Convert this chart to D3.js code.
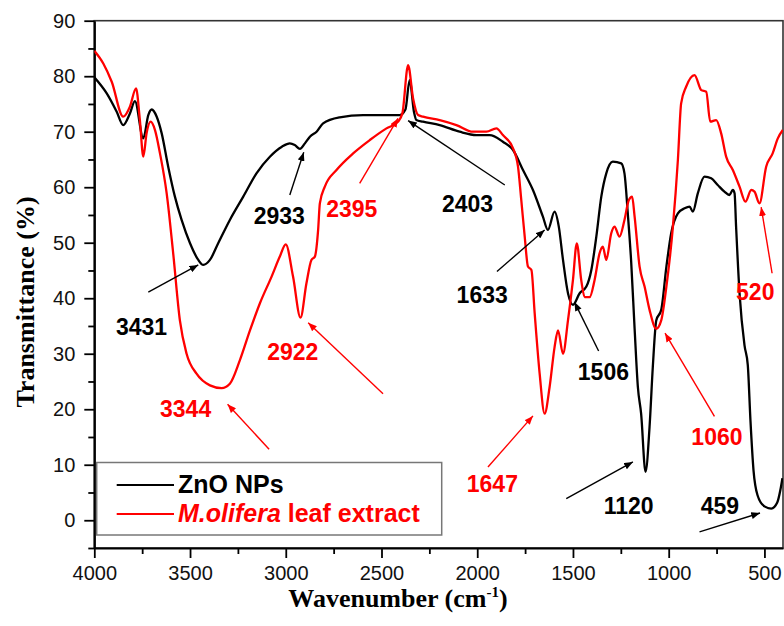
<!DOCTYPE html>
<html>
<head>
<meta charset="utf-8">
<script src="https://cdn.jsdelivr.net/npm/d3@7"></script>
<style>
body{margin:0;background:#fff}
svg{display:block}
.axis text{font-family:"Liberation Sans",Arial,sans-serif;font-size:20px;fill:#111}
.axis path,.axis line{stroke:#000}
.peak{font-family:"Liberation Sans",Arial,sans-serif;font-size:23px;font-weight:bold}
.title{font-family:"Liberation Serif","Times New Roman",serif;font-size:26px;font-weight:bold;fill:#000}
.legend text{font-family:"Liberation Sans",Arial,sans-serif;font-size:25px;font-weight:bold}
</style>
</head>
<body>
<svg class="chart" width="784" height="626"></svg>
<script>
// ---- data ----
var wnZnO = [4000,3935,3883,3849,3814,3788,3744,3718,3700,3674,3648,3614,3579,3544,3500,3457,3431,3396,3353,3292,3222,3153,3083,3020,2979,2953,2926,2900,2874,2839,2805,2718,2596,2509,2405,2375,2353,2330,2318,2283,2196,2092,2004,1935,1866,1813,1761,1709,1657,1631,1596,1574,1552,1526,1500,1465,1430,1404,1378,1352,1326,1292,1248,1231,1213,1196,1178,1161,1144,1121,1100,1083,1065,1039,1012,987,952,917,891,874,848,813,778,744,709,683,665,656,648,630,604,587,573,557,536,500,464,433,417,406];
var tZnO = [79.8,76.9,73.6,71.2,73.3,75.5,68.8,73.0,74.0,72.7,69.7,63.7,58.3,54.1,49.9,46.9,46.0,46.9,49.9,54.1,58.3,62.5,65.5,67.3,67.9,67.6,66.9,67.9,69.1,70.0,71.5,72.6,73.0,73.0,73.0,74.0,79.3,73.5,72.1,71.8,71.2,70.0,69.4,69.4,68.2,66.7,63.1,59.5,54.7,52.3,55.6,52.9,46.9,40.9,38.8,40.9,42.1,45.1,51.1,58.3,62.5,64.6,64.3,62.5,55.0,46.6,34.5,24.0,19.2,8.7,16.8,27.6,36.0,37.9,45.7,51.7,55.3,56.2,56.5,55.6,58.9,61.9,61.6,60.4,59.2,58.6,59.5,58.9,52.9,40.9,31.5,28.0,18.0,9.0,4.5,2.5,2.1,3.2,5.4,7.6];

var wnLeaf = [4000,3953,3909,3849,3814,3782,3762,3744,3727,3706,3683,3657,3622,3588,3553,3518,3466,3396,3335,3292,3240,3187,3135,3074,3031,3000,2962,2923,2892,2866,2848,2831,2822,2796,2735,2648,2561,2474,2414,2391,2361,2335,2309,2283,2196,2109,2022,1952,1900,1866,1813,1787,1770,1752,1735,1717,1700,1674,1648,1622,1596,1578,1552,1526,1500,1480,1457,1439,1413,1387,1361,1344,1326,1300,1283,1257,1231,1208,1191,1178,1152,1126,1100,1065,1039,1012,978,952,935,909,865,830,804,783,752,726,700,665,630,599,569,552,526,491,457,430,404];
var tLeaf = [84.6,82.3,79.0,72.7,74.5,77.8,72.1,65.5,69.7,71.8,70.3,66.1,58.9,48.1,36.0,30.0,26.4,24.3,23.8,24.6,28.8,34.2,39.1,43.9,47.5,49.7,43.9,36.5,42.7,46.9,47.5,52.3,57.1,60.1,63.1,66.1,68.5,70.6,71.8,73.3,82.0,76.0,73.0,72.7,72.1,71.2,70.0,70.0,70.6,69.4,67.0,63.7,57.7,51.1,45.7,45.1,37.3,26.4,19.2,24.0,31.2,34.2,30.0,36.0,43.3,49.9,43.3,40.2,40.2,43.3,48.1,49.3,46.9,51.7,52.9,51.1,54.1,57.7,58.3,54.7,45.7,42.1,37.9,34.5,36.0,42.1,52.9,64.9,75.1,78.1,80.2,77.5,77.2,71.8,72.1,69.7,65.5,63.1,60.1,57.4,59.5,59.2,57.1,63.7,66.1,68.8,70.3];

var xTicks = [4000,3500,3000,2500,2000,1500,1000,500];
var xMinor = [3750,3250,2750,2250,1750,1250,750];
var yTicks = [0,10,20,30,40,50,60,70,80,90];
var yMinor = [-5,5,15,25,35,45,55,65,75,85];

var seriesNames = ['ZnO NPs','M.olifera leaf extract'];

// peak annotations (wavenumber, transmittance)
var peakLabels = ['3431','2933','2395','2922','3344','2403','1633','520','1506','1647','1060','1120','459'];
var peakSeries = [0,0,1,1,1,0,0,1,0,1,1,0,0];
var peakText = [[3753,34.8],[3034,54.8],[2655,56.1],[2963,30.3],[3523,20.1],[2051,57.1],[1974,40.6],[548,41.2],[1341,26.7],[1921,6.6],[748,15.0],[1209,2.7],[733,2.7]];
var arrowFrom = [[3718,41.1],[2979,58.6],[2614,60.7],[2492,22.8],[3087,12.8],[1856,60.4],[1897,44.8],[460,44.5],[1366,30.5],[1944,9.6],[761,18.7],[1535,3.9],[839,-2.1]];
var arrowTo = [[3457,46.0],[2906,66.3],[2414,72.4],[2883,35.6],[3304,20.9],[2361,72.0],[1648,52.3],[517,56.4],[1492,39.3],[1709,18.8],[1019,33.7],[1187,10.5],[523,1.3]];

// ---- layout ----
var plotL = 94.3, plotR = 783, plotT = 20.7, plotB = 548;
var colors = ['#000000','#ff0000'];

var svg = d3.select('.chart');

var x = d3.scaleLinear().domain([4000,403]).range([plotL,plotR]);
var y = d3.scaleLinear().domain([-5,90]).range([plotB,plotT]);

svg.append('rect').attr('width',784).attr('height',626).attr('fill','#fff');

// clip
svg.append('clipPath').attr('id','plotclip')
	.append('rect').attr('x',plotL).attr('y',plotT).attr('width',plotR-plotL).attr('height',plotB-plotT);

// frame (top/right)
svg.append('rect')
	.attr('x',plotL).attr('y',plotT)
	.attr('width',plotR-plotL).attr('height',plotB-plotT)
	.attr('fill','none').attr('stroke','#333').attr('stroke-width',1.6);

// minor ticks
var xMinorAxis = d3.axisBottom(x).tickValues(xMinor).tickSize(6).tickFormat('');
var yMinorAxis = d3.axisLeft(y).tickValues(yMinor).tickSize(6).tickFormat('');
svg.append('g').attr('class','axis').attr('transform','translate(0,'+plotB+')').call(xMinorAxis)
	.call(g=>g.select('.domain').remove())
	.selectAll('line').attr('stroke-width',1.8);
svg.append('g').attr('class','axis').attr('transform','translate('+plotL+',0)').call(yMinorAxis)
	.call(g=>g.select('.domain').remove())
	.selectAll('line').attr('stroke-width',1.8);

// major axes
var xAxis = d3.axisBottom(x).tickValues(xTicks).tickSize(10).tickSizeOuter(0).tickPadding(8).tickFormat(d3.format('d'));
var yAxis = d3.axisLeft(y).tickValues(yTicks).tickSize(10).tickSizeOuter(0).tickPadding(9).tickFormat(d3.format('d'));

var gx = svg.append('g').attr('class','axis').attr('transform','translate(0,'+plotB+')').call(xAxis);
gx.select('.domain').attr('stroke-width',2.2);
gx.selectAll('line').attr('stroke-width',1.8);

var gy = svg.append('g').attr('class','axis').attr('transform','translate('+plotL+',0)').call(yAxis);
gy.select('.domain').attr('stroke-width',2.2);
gy.selectAll('line').attr('stroke-width',1.8);

// spectra
var line = d3.line()
	.x(d=>x(d[0]))
	.y(d=>y(d[1]))
	.curve(d3.curveMonotoneX);

var spectra = [
	d3.zip(wnZnO,tZnO),
	d3.zip(wnLeaf,tLeaf)
];

svg.append('g').attr('clip-path','url(#plotclip)')
	.selectAll('path')
	.data(spectra)
	.enter()
	.append('path')
	.attr('d',line)
	.attr('fill','none')
	.attr('stroke',(d,i)=>colors[i])
	.attr('stroke-width',2.3)
	.attr('stroke-linejoin','round');

// arrow markers
var defs = svg.append('defs');
colors.forEach(function(c,i){
	defs.append('marker')
		.attr('id','arr'+i)
		.attr('markerUnits','userSpaceOnUse')
		.attr('viewBox','0 0 10 8')
		.attr('markerWidth',9)
		.attr('markerHeight',7)
		.attr('refX',10)
		.attr('refY',4)
		.attr('orient','auto')
		.append('path')
		.attr('d','M0,0 L10,4 L0,8 z')
		.attr('fill',c);
});

// annotations
var peaks = svg.append('g');
peakLabels.forEach(function(lab,i){
	var c = colors[peakSeries[i]];
	peaks.append('line')
		.attr('x1',x(arrowFrom[i][0])).attr('y1',y(arrowFrom[i][1]))
		.attr('x2',x(arrowTo[i][0])).attr('y2',y(arrowTo[i][1]))
		.attr('stroke',c)
		.attr('stroke-width',1.4)
		.attr('marker-end','url(#arr'+peakSeries[i]+')');
	peaks.append('text')
		.attr('class','peak')
		.attr('x',x(peakText[i][0]))
		.attr('y',y(peakText[i][1]))
		.attr('dy','0.36em')
		.attr('text-anchor','middle')
		.attr('fill',c)
		.text(lab);
});

// legend
var legend = svg.append('g').attr('class','legend');
legend.append('rect')
	.attr('x',96.7).attr('y',462.5)
	.attr('width',345).attr('height',72.5)
	.attr('fill','#fff')
	.attr('stroke','#777')
	.attr('stroke-width',1.5);

seriesNames.forEach(function(name,i){
	var ly = 485 + i*29;
	legend.append('line')
		.attr('x1',116.7).attr('x2',174)
		.attr('y1',ly).attr('y2',ly)
		.attr('stroke',colors[i])
		.attr('stroke-width',2.2);
	var t = legend.append('text')
		.attr('x',178)
		.attr('y',ly+7.5)
		.attr('fill',colors[i]);
	if(i===1){
		t.append('tspan').attr('font-style','italic').text('M.olifera');
		t.append('tspan').text(' leaf extract');
	}else{
		t.text(name);
	}
});

// axis titles
var xt = svg.append('text')
	.attr('class','title')
	.attr('x',398)
	.attr('y',607)
	.attr('text-anchor','middle');
xt.append('tspan').text('Wavenumber (cm');
xt.append('tspan').attr('font-size','15px').attr('dy','-10').text('-1');
xt.append('tspan').attr('dy','10').text(')');

svg.append('text')
	.attr('class','title')
	.attr('transform','translate(34,302) rotate(-90)')
	.attr('text-anchor','middle')
	.attr('font-size','27px')
	.text('Transmittance (%)');
</script>
</body>
</html>
